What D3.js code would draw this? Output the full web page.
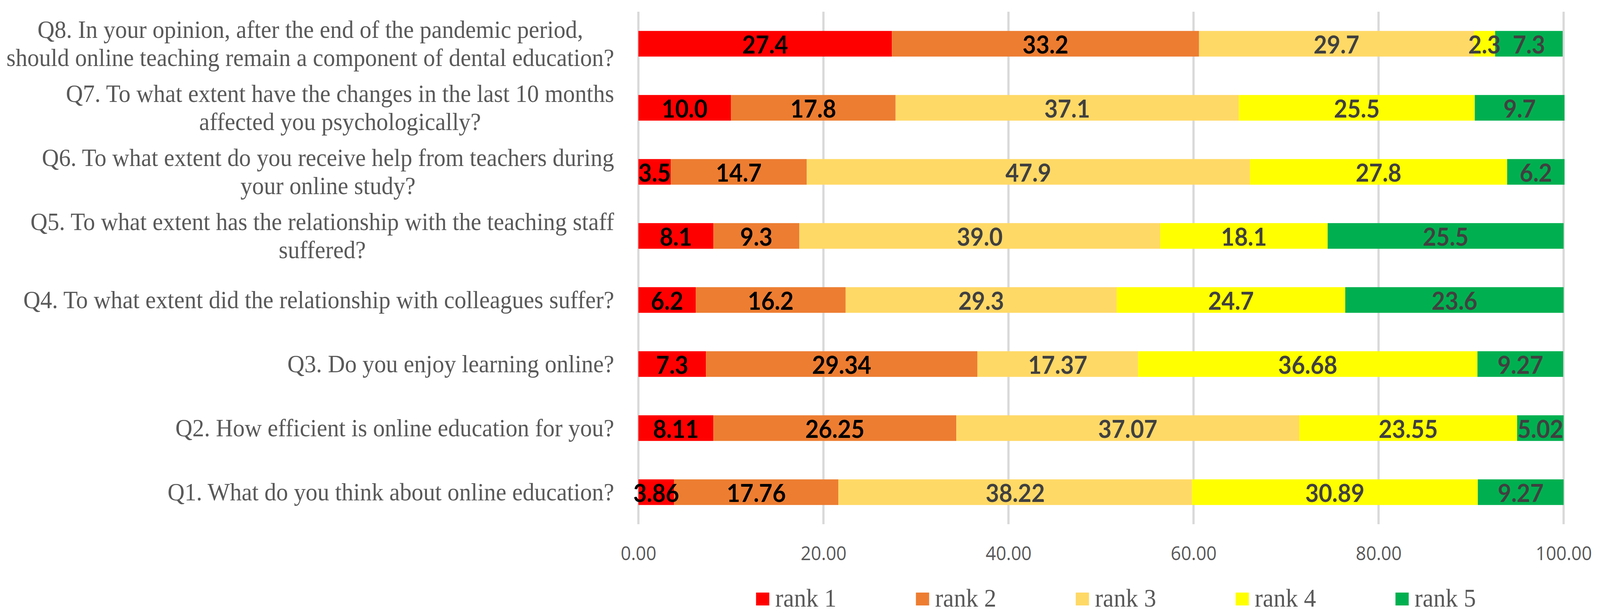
<!DOCTYPE html>
<html>
  <head>
    <meta charset="utf-8">
    <title>Online education survey</title>
    <style>
      body { margin: 0; background: #fff; overflow: hidden; }
      svg { display: block; }
      .qlabel { font-family: 'Liberation Serif', 'Times New Roman', serif; font-size: 64px; fill: #595959; }
      .tick-label { font-family: 'Open Sans', 'Liberation Sans', sans-serif; font-size: 49px; fill: #595959; }
      .val { font-family: Lato, 'Open Sans', sans-serif; font-weight: 700; font-size: 63px; }
      .legend-text { font-family: 'Liberation Serif', 'Times New Roman', serif; font-size: 66px; fill: #595959; }
    </style>
  </head>
  <body>
    <div id="chart"></div>
    <script src="https://cdnjs.cloudflare.com/ajax/libs/d3/7.8.5/d3.min.js"></script>
    <script>
    // questions from top (Q8) to bottom (Q1), each split in the lines shown
    var questions = [
      ['Q8. In your opinion, after the end of the pandemic period,', 'should online teaching remain a component of dental education?'],
      ['Q7. To what extent have the changes in the last 10 months', 'affected you psychologically?'],
      ['Q6. To what extent do you receive help from teachers during', 'your online study?'],
      ['Q5. To what extent has the relationship with the teaching staff', 'suffered?'],
      ['Q4. To what extent did the relationship with colleagues suffer?'],
      ['Q3. Do you enjoy learning online?'],
      ['Q2. How efficient is online education for you?'],
      ['Q1. What do you think about online education?']
    ];
    var seriesNames = ['rank 1', 'rank 2', 'rank 3', 'rank 4', 'rank 5'];
    var seriesColors = ['#ff0000', '#ed7d31', '#ffd966', '#ffff00', '#00b050'];
    var labelColors = ['#000000', '#000000', '#404040', '#404040', '#404040'];
    // values as printed on the bars, Q8 ... Q1
    var rank1 = ['27.4', '10.0', '3.5', '8.1', '6.2', '7.3', '8.11', '3.86'];
    var rank2 = ['33.2', '17.8', '14.7', '9.3', '16.2', '29.34', '26.25', '17.76'];
    var rank3 = ['29.7', '37.1', '47.9', '39.0', '29.3', '17.37', '37.07', '38.22'];
    var rank4 = ['2.3', '25.5', '27.8', '18.1', '24.7', '36.68', '23.55', '30.89'];
    var rank5 = ['7.3', '9.7', '6.2', '25.5', '23.6', '9.27', '5.02', '9.27'];
    var xTicks = [0, 20, 40, 60, 80, 100];

    // drawn in a 4351x1577 frame, stretched onto whatever the window really is
    var W = 4351, H = 1577;
    var svg = d3.select('#chart').append('svg')
                .attr('width', window.innerWidth).attr('height', window.innerHeight)
                .attr('viewBox', '0 0 ' + W + ' ' + H)
                .attr('preserveAspectRatio', 'none');

    var x = d3.scaleLinear().domain([0, 100]).range([1736, 4252]);
    var y = d3.scaleBand().domain(d3.range(questions.length)).range([30, 1342])
              .paddingInner(0.6).paddingOuter(0.3);

    // build stacked rows
    var ranks = [rank1, rank2, rank3, rank4, rank5];
    var rows = questions.map(function(q, i) {
      var row = {};
      seriesNames.forEach(function(s, k) { row[s] = +ranks[k][i]; });
      return row;
    });
    var stacked = d3.stack().keys(seriesNames)(rows);

    // gridlines
    svg.append('g').attr('class', 'grid')
       .selectAll('line').data(xTicks).enter().append('line')
       .attr('x1', function(d) { return x(d); })
       .attr('x2', function(d) { return x(d); })
       .attr('y1', 30).attr('y2', 1342)
       .style('stroke', '#d9d9d9').style('stroke-width', 6);

    // bars
    var layers = svg.append('g').selectAll('g').data(stacked).enter().append('g')
       .style('fill', function(d, k) { return seriesColors[k]; });
    layers.selectAll('rect').data(function(d) { return d; }).enter().append('rect')
       .attr('x', function(d) { return x(d[0]); })
       .attr('width', function(d) { return x(d[1]) - x(d[0]); })
       .attr('y', function(d, i) { return y(i); })
       .attr('height', y.bandwidth());

    // value labels
    var labelLayers = svg.append('g').selectAll('g').data(stacked).enter().append('g')
       .style('fill', function(d, k) { return labelColors[k]; });
    labelLayers.each(function(layer, k) {
      d3.select(this).selectAll('text').data(layer).enter().append('text')
        .attr('class', 'val')
        .attr('x', function(d) { return (x(d[0]) + x(d[1])) / 2; })
        .attr('y', function(d, i) { return y(i) + y.bandwidth() / 2 + 25; })
        .attr('text-anchor', 'middle')
        .text(function(d, i) { return ranks[k][i]; });
    });

    // x axis tick labels
    var xAxis = d3.axisBottom(x).tickValues(xTicks).tickFormat(d3.format('.2f')).tickSize(0);
    var ax = svg.append('g').attr('transform', 'translate(0,1399)').call(xAxis);
    ax.select('.domain').remove();
    ax.selectAll('text').attr('class', 'tick-label').attr('dy', '0.71em').attr('y', 0)
      .attr('font-family', null).attr('font-size', null).attr('fill', null);

    // question labels: lines centred on each other, block right-aligned to 1670
    var qg = svg.append('g');
    questions.forEach(function(lines, i) {
      var cy = y(i) + y.bandwidth() / 2;
      var texts = lines.map(function(line, j) {
        return qg.append('text').attr('class', 'qlabel')
                 .attr('y', cy + 21 + (j - (lines.length - 1) / 2) * 72)
                 .attr('text-anchor', 'middle')
                 .text(line);
      });
      var maxW = d3.max(texts, function(t) { return t.node().getComputedTextLength(); });
      texts.forEach(function(t) { t.attr('x', 1670 - maxW / 2); });
    });

    // legend
    var legend = svg.append('g').selectAll('g').data(seriesNames).enter().append('g')
       .attr('transform', function(d, k) { return 'translate(' + (2056 + k * 434.7) + ',1517)'; });
    legend.append('rect').attr('width', 36).attr('height', 33)
       .style('fill', function(d, k) { return seriesColors[k]; });
    legend.append('text').attr('class', 'legend-text').attr('x', 52).attr('y', 36).text(function(d) { return d; });
    </script>
  </body>
</html>
